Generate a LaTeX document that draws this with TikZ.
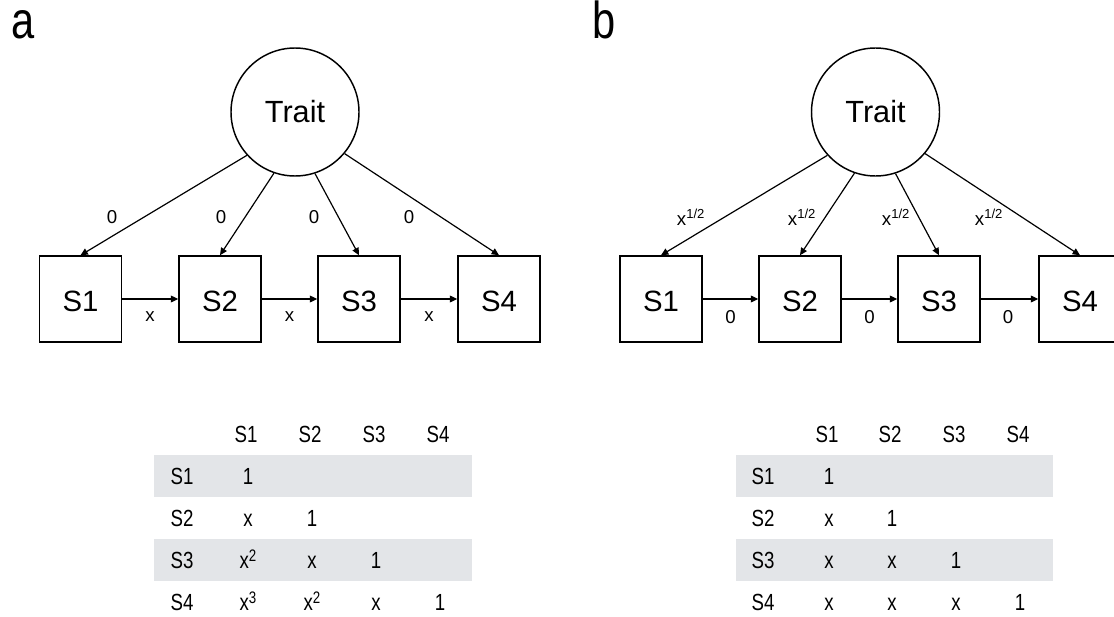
\documentclass[tikz,border=0pt]{standalone}
\usepackage{fontspec}
\setmainfont{Liberation Sans}
\newfontfamily\condfont{Liberation Sans}[FakeStretch=0.8]
\usetikzlibrary{arrows.meta}
\definecolor{bandgray}{RGB}{227,229,232}
\newcommand{\xpow}[1]{x\raisebox{0.55ex}{\fontsize{12.5}{13}\selectfont #1}}

\begin{document}
\begin{tikzpicture}[x=0.75pt,y=0.75pt,yscale=-1,xscale=1,
  obsbox/.style={draw, line width=1.1pt, minimum width=61.5pt, minimum height=64.5pt, inner sep=0pt, text height=19pt, font=\fontsize{22}{26}\selectfont},
  latent/.style={draw, circle, line width=1.1pt, minimum size=96pt, inner sep=0pt, font=\fontsize{23}{27}\selectfont},
  arrowline/.style={line width=0.9pt, -{Triangle[length=5.5pt,width=5pt]}},
  coef/.style={inner sep=0.75pt, font=\fontsize{14}{16}\selectfont},
  cell/.style={inner sep=0pt, anchor=base, font=\condfont\fontsize{17.5}{19}\selectfont},
  panel/.style={inner sep=0pt, anchor=base, font=\condfont\fontsize{39}{42}\selectfont}]
\useasboundingbox (0,0) rectangle (1114,617);

%Panel letters
\node[panel] (pa) at (23,39) {a};
\node[panel] (pb) at (604,39) {b};

%%% Panel a: path diagram
% Latent node
\node[latent] (trait-a) at (295,112) {Trait};
% Observed nodes
\node[obsbox] (a1) at (80.5,299) {S1};
\node[obsbox] (a2) at (220,299) {S2};
\node[obsbox] (a3) at (359,299) {S3};
\node[obsbox] (a4) at (499,299) {S4};
% Loadings
\draw[arrowline] (trait-a.222) -- (a1.north);
\draw[arrowline] (trait-a.251) -- (a2.north);
\draw[arrowline] (trait-a.288) -- (a3.north);
\draw[arrowline] (trait-a.320) -- (a4.north);
% Autoregressive paths
\draw[arrowline] (a1) -- (a2);
\draw[arrowline] (a2) -- (a3);
\draw[arrowline] (a3) -- (a4);
% Text Node
\node[coef] (la1) at (112,217) {0};
\node[coef] (la2) at (221,217) {0};
\node[coef] (la3) at (314,217) {0};
\node[coef] (la4) at (409,217) {0};
\node[coef] (ra1) at (150,317) {x};
\node[coef] (ra2) at (289.5,317) {x};
\node[coef] (ra3) at (429,317) {x};

%%% Panel b: path diagram
% Latent node
\node[latent] (trait-b) at (875.5,112) {Trait};
% Observed nodes
\node[obsbox] (b1) at (661,299) {S1};
\node[obsbox] (b2) at (800,299) {S2};
\node[obsbox] (b3) at (939,299) {S3};
\node[obsbox] (b4) at (1080,299) {S4};
% Loadings
\draw[arrowline] (trait-b.222) -- (b1.north);
\draw[arrowline] (trait-b.251) -- (b2.north);
\draw[arrowline] (trait-b.288) -- (b3.north);
\draw[arrowline] (trait-b.320) -- (b4.north);
% Autoregressive paths
\draw[arrowline] (b1) -- (b2);
\draw[arrowline] (b2) -- (b3);
\draw[arrowline] (b3) -- (b4);
% Text Node
\node[coef] (lb1) at (691,217) {x\textsuperscript{1/2}};
\node[coef] (lb2) at (802,217) {x\textsuperscript{1/2}};
\node[coef] (lb3) at (896,217) {x\textsuperscript{1/2}};
\node[coef] (lb4) at (989,217) {x\textsuperscript{1/2}};
\node[coef] (rb1) at (730.5,317) {0};
\node[coef] (rb2) at (869.5,317) {0};
\node[coef] (rb3) at (1008,317) {0};

%%% Table a
%Shape: Rectangle
\fill[bandgray] (154,455) rectangle (472,497);
\fill[bandgray] (154,539) rectangle (472,581);
% header
\node[cell] (ta-h1) at (246,442) {S1};
\node[cell] (ta-h2) at (310,442) {S2};
\node[cell] (ta-h3) at (374,442) {S3};
\node[cell] (ta-h4) at (438,442) {S4};
% row labels
\node[cell] (ta-r1) at (182,484) {S1};
\node[cell] (ta-r2) at (182,526) {S2};
\node[cell] (ta-r3) at (182,568) {S3};
\node[cell] (ta-r4) at (182,610) {S4};
% entries
\node[cell] (ta-11) at (248,484) {1};
\node[cell] (ta-21) at (248,526) {x};
\node[cell] (ta-22) at (312,526) {1};
\node[cell] (ta-31) at (248,568) {\xpow{2}};
\node[cell] (ta-32) at (312,568) {x};
\node[cell] (ta-33) at (376,568) {1};
\node[cell] (ta-41) at (248,610) {\xpow{3}};
\node[cell] (ta-42) at (312,610) {\xpow{2}};
\node[cell] (ta-43) at (376,610) {x};
\node[cell] (ta-44) at (440,610) {1};

%%% Table b
%Shape: Rectangle
\fill[bandgray] (736,455) rectangle (1053,497);
\fill[bandgray] (736,539) rectangle (1053,581);
% header
\node[cell] (tb-h1) at (827,442) {S1};
\node[cell] (tb-h2) at (890,442) {S2};
\node[cell] (tb-h3) at (954,442) {S3};
\node[cell] (tb-h4) at (1018,442) {S4};
% row labels
\node[cell] (tb-r1) at (763,484) {S1};
\node[cell] (tb-r2) at (763,526) {S2};
\node[cell] (tb-r3) at (763,568) {S3};
\node[cell] (tb-r4) at (763,610) {S4};
% entries
\node[cell] (tb-11) at (829,484) {1};
\node[cell] (tb-21) at (829,526) {x};
\node[cell] (tb-22) at (892,526) {1};
\node[cell] (tb-31) at (829,568) {x};
\node[cell] (tb-32) at (892,568) {x};
\node[cell] (tb-33) at (956,568) {1};
\node[cell] (tb-41) at (829,610) {x};
\node[cell] (tb-42) at (892,610) {x};
\node[cell] (tb-43) at (956,610) {x};
\node[cell] (tb-44) at (1020,610) {1};

\end{tikzpicture}
\end{document}
